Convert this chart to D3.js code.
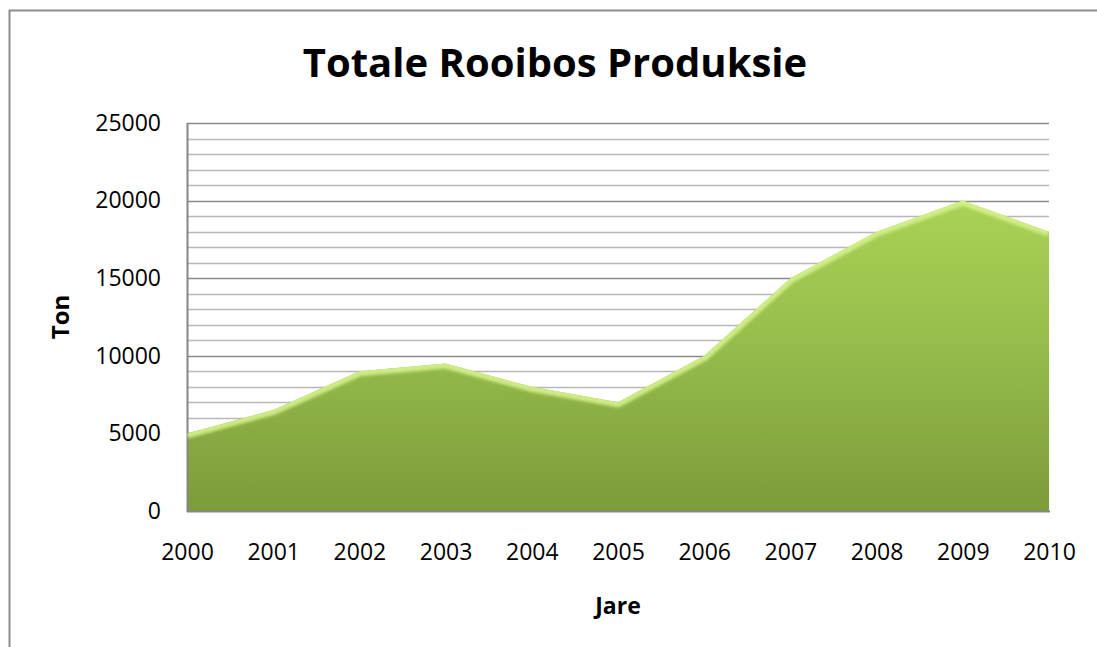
<!DOCTYPE html>
<html>
<head>
<meta charset="utf-8">
<script src="https://cdn.jsdelivr.net/npm/d3@7"></script>
<style>
  html, body { margin: 0; padding: 0; background: #fff; }
  svg { display: block; }
  text { font-family: "Open Sans", "Lato", sans-serif; fill: #000; }
</style>
</head>
<body>
<svg id="chart" width="1097" height="647"></svg>
<script>
// Annual rooibos production (tons)
const years = [2000, 2001, 2002, 2003, 2004, 2005, 2006, 2007, 2008, 2009, 2010];
const production = [5000, 6500, 9000, 9500, 8000, 7000, 10000, 15000, 18000, 20000, 18000];
const yTicks = [0, 5000, 10000, 15000, 20000, 25000];
const minorStep = 1000;

const title = "Totale Rooibos Produksie";
const xTitle = "Jare";
const yTitle = "Ton";

const W = 1097, H = 647;
const margin = { left: 187, right: 48, top: 123, bottom: 136 };
const plotW = W - margin.left - margin.right;
const plotH = H - margin.top - margin.bottom;

const svg = d3.select("#chart");

// outer chart frame
svg.append("rect")
  .attr("x", 9.5).attr("y", 10.5)
  .attr("width", W + 20).attr("height", H + 20)
  .attr("fill", "none").attr("stroke", "#8c8c8c").attr("stroke-width", 2);

const x = d3.scalePoint().domain(years).range([0, plotW]);
const y = d3.scaleLinear().domain([0, 25000]).range([plotH, 0]);

const defs = svg.append("defs");

const grad = defs.append("linearGradient")
  .attr("id", "areaFill").attr("x1", 0).attr("y1", 0).attr("x2", 0).attr("y2", 1);
grad.append("stop").attr("offset", "0%").attr("stop-color", "#a9d255");
grad.append("stop").attr("offset", "45%").attr("stop-color", "#97bd4c");
grad.append("stop").attr("offset", "100%").attr("stop-color", "#7c9b3a");

const blurHi = defs.append("filter").attr("id", "blurHi")
  .attr("x", "-5%").attr("y", "-20%").attr("width", "110%").attr("height", "140%");
blurHi.append("feGaussianBlur").attr("stdDeviation", 1.6);

const g = svg.append("g").attr("transform", `translate(${margin.left},${margin.top})`);

// horizontal gridlines: minor every 1000, major every 5000
const gridVals = d3.range(minorStep, 25000 + 1, minorStep);
g.append("g").selectAll("line")
  .data(gridVals)
  .join("line")
  .attr("x1", 0).attr("x2", plotW)
  .attr("y1", d => Math.round(y(d)) + 0.5).attr("y2", d => Math.round(y(d)) + 0.5)
  .attr("stroke", d => d % 5000 === 0 ? "#8a8a8a" : "#b8b8b8")
  .attr("stroke-width", d => d % 5000 === 0 ? 1.6 : 1.3);

// area
const pts = years.map((yr, i) => [yr, production[i]]);
const area = d3.area().x(d => x(d[0])).y0(y(0)).y1(d => y(d[1]));
const line = d3.line().x(d => x(d[0])).y(d => y(d[1]));

defs.append("clipPath").attr("id", "areaClip")
  .append("path").attr("d", area(pts)).attr("transform", `translate(${margin.left},${margin.top})`);

g.append("path").attr("d", area(pts)).attr("fill", "url(#areaFill)");

// bevel: light top edge, dark bottom and right edges
const bevel = svg.append("g").attr("clip-path", "url(#areaClip)")
  .append("g").attr("transform", `translate(${margin.left},${margin.top})`);
bevel.append("path").attr("d", line(pts))
  .attr("fill", "none").attr("stroke", "#d4f28c").attr("stroke-width", 10)
  .attr("stroke-opacity", 0.9).attr("filter", "url(#blurHi)");
bevel.append("line")
  .attr("x1", 0).attr("x2", plotW).attr("y1", plotH).attr("y2", plotH)
  .attr("stroke", "#62802a").attr("stroke-width", 10).attr("stroke-opacity", 0.55)
  .attr("filter", "url(#blurHi)");
bevel.append("line")
  .attr("x1", plotW).attr("x2", plotW).attr("y1", 0).attr("y2", plotH)
  .attr("stroke", "#62802a").attr("stroke-width", 9).attr("stroke-opacity", 0.6)
  .attr("filter", "url(#blurHi)");
bevel.append("line")
  .attr("x1", 0).attr("x2", 0).attr("y1", 0).attr("y2", plotH)
  .attr("stroke", "#b5d86a").attr("stroke-width", 8).attr("stroke-opacity", 0.5)
  .attr("filter", "url(#blurHi)");

// axes
const yAxis = g.append("g").call(d3.axisLeft(y).tickValues(yTicks).tickSize(0).tickPadding(26).tickFormat(d3.format("d")));
yAxis.select(".domain").remove();
yAxis.selectAll("text").attr("font-size", 23).attr("font-family", "'Open Sans', sans-serif");

const xAxis = g.append("g").attr("transform", `translate(0,${plotH})`)
  .call(d3.axisBottom(x).tickSize(0).tickPadding(33).tickFormat(d3.format("d")));
xAxis.select(".domain").remove();
xAxis.selectAll("text").attr("font-size", 23).attr("font-family", "'Open Sans', sans-serif");

g.append("line").attr("x1", 0.5).attr("x2", 0.5).attr("y1", 0).attr("y2", plotH + 1)
  .attr("stroke", "#868686").attr("stroke-width", 2);
g.append("line").attr("x1", 0).attr("x2", plotW + 1).attr("y1", plotH + 0.5).attr("y2", plotH + 0.5)
  .attr("stroke", "#868686").attr("stroke-width", 2);

// titles
svg.append("text").attr("x", 555).attr("y", 77)
  .attr("text-anchor", "middle").attr("font-size", 40).attr("font-weight", "bold")
  .text(title);
svg.append("text").attr("x", margin.left + plotW / 2).attr("y", 614)
  .attr("text-anchor", "middle").attr("font-size", 23).attr("font-weight", "bold")
  .text(xTitle);
svg.append("text").attr("transform", `translate(69,${margin.top + plotH / 2}) rotate(-90)`)
  .attr("text-anchor", "middle").attr("font-size", 24).attr("font-weight", "bold")
  .text(yTitle);
</script>
</body>
</html>
